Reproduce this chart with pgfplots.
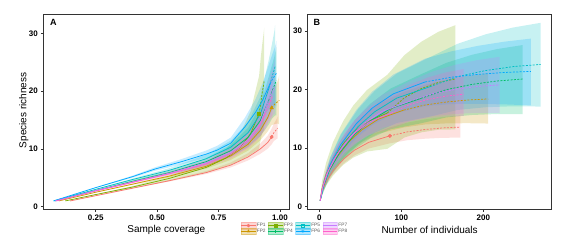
\documentclass[border=0pt]{standalone}
\usepackage{pgfplots}
\pgfplotsset{compat=1.18}
\usepackage{fontspec}
\setmainfont{Liberation Sans}
\definecolor{c1}{HTML}{F8766D}
\definecolor{c2}{HTML}{CD9600}
\definecolor{c3}{HTML}{7CAE00}
\definecolor{c4}{HTML}{00BE67}
\definecolor{c5}{HTML}{00BFC4}
\definecolor{c6}{HTML}{00A9FF}
\definecolor{c7}{HTML}{C77CFF}
\definecolor{c8}{HTML}{FF61CC}
\tikzset{
  rib/.style={fill=#1, fill opacity=0.22, draw=none},
  obs/.style={#1, line width=0.75pt},
  ext/.style={#1, line width=0.75pt, dash pattern=on 2pt off 1.4pt},
}
\pgfplotsset{
  base/.style={scale only axis, height=195pt,
    axis line style={draw=black!80, line width=0.8pt},
    tick align=outside, major tick length=2.5pt,
    tick style={black!80, line width=0.6pt},
    tick label style={font=\bfseries\fontsize{8}{9}\selectfont, black},
    yticklabel style={xshift=0.6pt},
    label style={font=\fontsize{10}{12}\selectfont},
    /pgf/number format/assume math mode=true,
    ytick={0,10,20,30}, xtick pos=left, ytick pos=left,
    every axis plot/.append style={forget plot}},
  legkey/.style 2 args={legend image code/.code={
    \fill[#1, fill opacity=0.3, draw=#1, draw opacity=0.35, line width=0.3pt] (0pt,-3.3pt) rectangle (14.5pt,3.3pt);
    \draw[#1, line width=0.7pt] (0pt,0pt) -- (14.5pt,0pt);
    \path[draw=#1, fill=#1] plot[#2, mark size=1.5pt] coordinates {(7.25pt,0pt)};
  }},
}
\begin{document}
\begin{tikzpicture}
\path[use as bounding box] (0pt,0pt) rectangle (564pt,249pt);
% ---------------- Panel A ----------------
\begin{axis}[base, at={(43.3pt,39.7pt)}, anchor=south west, width=246pt,
  xmin=0.0367, xmax=1.038, ymin=-0.45, ymax=33.29,
  xtick={0.25,0.5,0.75,1}, xticklabels={0.25,0.50,0.75,1.00},
  xlabel={Sample coverage}, ylabel={Species richness},
  xlabel style={at={(axis description cs:0.5,-0.108)}, anchor=center},
  ylabel style={at={(axis description cs:-0.079,0.508)}, anchor=center},
  legend style={at={(1.021,-0.098)}, anchor=center, legend columns=4, draw=none, fill=none,
    font=\fontsize{4.8}{5}\selectfont, text=black!65, row sep=-1.2pt, inner sep=0pt,
    nodes={inner sep=0.8pt}, /tikz/every even column/.append style={column sep=1.6pt}},
]
% ribbons
\addplot[rib=c1] coordinates {(0.146,1)(0.25,1.89)(0.40,3.15)(0.55,4.37)(0.70,5.65)(0.80,6.80)(0.87,8.00)(0.92,9.15)(0.95,10.03)(0.966,10.78)(0.975,11.36)(0.983,11.61)(0.988,11.76)(0.99,11.8)
 (0.99,15.6)(0.988,15.33)(0.983,14.92)(0.975,14.36)(0.966,13.48)(0.95,12.28)(0.92,10.94)(0.87,9.27)(0.80,7.65)(0.70,6.18)(0.55,4.64)(0.40,3.26)(0.25,1.91)} -- cycle;
\addplot[rib=c2] coordinates {(0.10,1)(0.25,2.47)(0.40,3.80)(0.55,5.09)(0.70,6.59)(0.80,8.10)(0.87,9.69)(0.92,11.49)(0.95,13.02)(0.966,14.12)(0.98,14.3)(0.99,14.4)(0.995,14.3)(0.997,14.2)
 (0.997,22.8)(0.995,22.35)(0.99,21.70)(0.98,20.84)(0.966,20.22)(0.95,17.90)(0.92,14.99)(0.87,11.96)(0.80,9.53)(0.70,7.43)(0.55,5.52)(0.40,4.00)(0.25,2.53)} -- cycle;
\addplot[rib=c3] coordinates {(0.126,1)(0.25,2.07)(0.40,3.25)(0.55,4.49)(0.70,5.90)(0.78,6.93)(0.84,7.98)(0.88,9.00)(0.915,9.99)(0.922,11.82)(0.928,12.70)(0.933,13.14)(0.936,13.2)
 (0.936,31.0)(0.933,29.87)(0.928,28.18)(0.922,25.88)(0.915,22.63)(0.88,16.45)(0.84,12.77)(0.78,9.97)(0.70,7.76)(0.55,5.34)(0.40,3.57)(0.25,2.13)} -- cycle;
\addplot[rib=c4] coordinates {(0.085,1)(0.25,2.75)(0.40,4.24)(0.55,5.57)(0.70,7.16)(0.80,8.65)(0.87,10.32)(0.92,12.21)(0.955,14.24)(0.968,15.25)(0.977,15.66)(0.982,15.83)(0.985,15.8)
 (0.985,27.6)(0.982,26.92)(0.977,25.93)(0.968,24.57)(0.955,22.62)(0.92,17.50)(0.87,13.63)(0.80,10.72)(0.70,8.42)(0.55,6.22)(0.40,4.56)(0.25,2.84)} -- cycle;
\addplot[rib=c5] coordinates {(0.08,1)(0.25,2.95)(0.40,4.52)(0.55,5.92)(0.70,7.58)(0.80,9.14)(0.87,10.93)(0.92,12.97)(0.955,15.39)(0.966,16.52)(0.973,16.98)(0.978,17.15)(0.98,17.1)
 (0.98,31.4)(0.978,30.59)(0.973,29.42)(0.966,27.82)(0.955,25.54)(0.92,18.98)(0.87,14.64)(0.80,11.44)(0.70,9.01)(0.55,6.67)(0.40,4.88)(0.25,3.05)} -- cycle;
\addplot[rib=c6] coordinates {(0.078,1)(0.25,3.25)(0.40,5.02)(0.49,6.20)(0.60,7.34)(0.70,8.44)(0.745,9.03)(0.80,10.0)(0.857,12.16)(0.90,13.96)(0.93,15.44)(0.96,17.18)(0.97,17.53)(0.978,17.55)(0.983,17.47)(0.985,17.3)
 (0.985,28.7)(0.983,28.18)(0.978,27.47)(0.97,26.53)(0.96,25.28)(0.93,21.46)(0.90,18.56)(0.857,15.38)(0.80,11.97)(0.745,10.55)(0.70,9.73)(0.60,8.25)(0.49,6.79)(0.40,5.37)(0.25,3.35)} -- cycle;
\addplot[rib=c7] coordinates {(0.085,1)(0.25,2.76)(0.40,4.17)(0.55,5.53)(0.70,7.09)(0.80,8.57)(0.87,10.27)(0.92,12.28)(0.95,14.59)(0.962,15.47)(0.971,15.84)(0.977,16.01)(0.98,16.0)
 (0.98,25.6)(0.977,25.03)(0.971,24.20)(0.962,23.05)(0.95,21.41)(0.92,16.52)(0.87,12.93)(0.80,10.23)(0.70,8.11)(0.55,6.07)(0.40,4.43)(0.25,2.84)} -- cycle;
\addplot[rib=c8] coordinates {(0.09,1)(0.25,2.67)(0.40,4.08)(0.55,5.44)(0.70,6.92)(0.80,8.33)(0.87,10.06)(0.91,11.60)(0.94,13.37)(0.953,14.52)(0.962,15.08)(0.967,15.40)(0.97,15.5)
 (0.97,23.5)(0.967,22.92)(0.962,22.04)(0.953,20.84)(0.94,19.05)(0.91,15.49)(0.87,12.74)(0.80,9.99)(0.70,7.96)(0.55,6.0)(0.40,4.34)(0.25,2.74)} -- cycle;
% lines
\addplot[obs=c1] coordinates {(0.146,1)(0.25,1.9)(0.40,3.2)(0.55,4.5)(0.70,5.9)(0.80,7.2)(0.87,8.6)(0.92,10.0)(0.95,11.1)(0.966,12.06)};
\addplot[ext=c1] coordinates {(0.966,12.06)(0.975,12.8)(0.983,13.2)(0.988,13.45)(0.99,13.6)};
\addplot[obs=c2] coordinates {(0.10,1)(0.25,2.5)(0.40,3.9)(0.55,5.3)(0.70,7.0)(0.80,8.8)(0.87,10.8)(0.92,13.2)(0.95,15.4)(0.966,17.1)};
\addplot[ext=c2] coordinates {(0.966,17.1)(0.98,17.8)(0.99,18.15)(0.995,18.3)(0.997,18.4)};
\addplot[obs=c3] coordinates {(0.126,1)(0.25,2.1)(0.40,3.4)(0.55,4.9)(0.70,6.8)(0.78,8.4)(0.84,10.3)(0.88,12.6)(0.915,16.1)};
\addplot[ext=c3] coordinates {(0.915,16.1)(0.922,18.0)(0.928,19.8)(0.933,21.0)(0.936,21.8)};
\addplot[obs=c4] coordinates {(0.085,1)(0.25,2.8)(0.40,4.4)(0.55,5.9)(0.70,7.8)(0.80,9.7)(0.87,12.0)(0.92,14.9)(0.955,18.5)};
\addplot[ext=c4] coordinates {(0.955,18.5)(0.968,20.0)(0.977,20.9)(0.982,21.5)(0.985,21.8)};
\addplot[obs=c5] coordinates {(0.08,1)(0.25,3.0)(0.40,4.7)(0.55,6.3)(0.70,8.3)(0.80,10.3)(0.87,12.8)(0.92,16.0)(0.955,20.5)};
\addplot[ext=c5] coordinates {(0.955,20.5)(0.966,22.2)(0.973,23.2)(0.978,23.9)(0.98,24.3)};
\addplot[obs=c6] coordinates {(0.078,1)(0.25,3.3)(0.40,5.2)(0.49,6.5)(0.60,7.8)(0.70,9.1)(0.745,9.8)(0.80,11.0)(0.857,13.8)(0.90,16.3)(0.93,18.5)(0.96,21.3)};
\addplot[ext=c6] coordinates {(0.96,21.3)(0.97,22.1)(0.978,22.6)(0.983,22.9)(0.985,23.1)};
\addplot[obs=c7] coordinates {(0.085,1)(0.25,2.8)(0.40,4.3)(0.55,5.8)(0.70,7.6)(0.80,9.4)(0.87,11.6)(0.92,14.4)(0.95,18.0)};
\addplot[ext=c7] coordinates {(0.95,18)(0.962,19.3)(0.971,20.0)(0.977,20.5)(0.98,20.8)};
\addplot[obs=c8] coordinates {(0.09,1)(0.25,2.7)(0.40,4.2)(0.55,5.7)(0.70,7.4)(0.80,9.1)(0.87,11.3)(0.91,13.4)(0.94,16.0)};
\addplot[ext=c8] coordinates {(0.94,16)(0.953,17.4)(0.962,18.3)(0.967,18.9)(0.97,19.2)};
% observed points
\addplot[c1, only marks, mark=*, mark size=1.8pt] coordinates {(0.966,12.06)};
\addplot[c2, only marks, mark=triangle*, mark size=2.1pt] coordinates {(0.966,17.1)};
\addplot[c3, only marks, mark=square*, mark size=1.6pt] coordinates {(0.915,16.1)};
\node[anchor=north west, inner sep=0pt, font=\bfseries\fontsize{9}{10}\selectfont] at (rel axis cs:0.027,0.974) {A};
% legend
\addlegendimage{legkey={c1}{mark=*}}\addlegendentry{FP1}
\addlegendimage{legkey={c3}{mark=square*}}\addlegendentry{FP3}
\addlegendimage{legkey={c5}{mark=square}}\addlegendentry{FP5}
\addlegendimage{legkey={c7}{mark=none}}\addlegendentry{FP7}
\addlegendimage{legkey={c2}{mark=triangle*}}\addlegendentry{FP2}
\addlegendimage{legkey={c4}{mark=+}}\addlegendentry{FP4}
\addlegendimage{legkey={c6}{mark=asterisk}}\addlegendentry{FP6}
\addlegendimage{legkey={c8}{mark=none}}\addlegendentry{FP8}
\end{axis}
% ---------------- Panel B ----------------
\begin{axis}[base, at={(307.5pt,39.7pt)}, anchor=south west, width=244.2pt,
  xmin=-14.4, xmax=283.4, ymin=-0.44, ymax=32.85,
  xtick={0,100,200},
  xlabel={Number of individuals},
  xlabel style={at={(axis description cs:0.5,-0.108)}, anchor=center},
]
\addplot[rib=c1] coordinates {(1,1)(3.4,2.31)(8.6,3.93)(17.2,5.63)(30.1,7.45)(43,8.76)(60.2,9.93)(86,10.82)(107.5,11.36)(129,11.61)(150.5,11.76)(172,11.8)
 (172,15.6)(150.5,15.33)(129,14.92)(107.5,14.36)(86,13.52)(60.2,12.17)(43,10.66)(30.1,9.05)(17.2,6.85)(8.6,4.77)(3.4,2.84)} -- cycle;
\addplot[rib=c2] coordinates {(1,1)(4.1,2.58)(10.3,4.73)(20.6,6.95)(36.1,9.32)(51.5,10.99)(72.1,12.47)(103,13.52)(128.8,14.04)(154.5,14.22)(180.3,14.26)(206,14.2)
 (206,22.8)(180.3,22.35)(154.5,21.70)(128.8,20.84)(103,19.62)(72.1,17.55)(51.5,15.29)(36.1,12.93)(20.6,9.70)(10.3,6.62)(4.1,3.79)} -- cycle;
\addplot[rib=c3] coordinates {(1,1)(3.3,1.90)(8.3,3.61)(16.6,5.30)(29.1,7.14)(41.5,8.4)(58.1,9.43)(83,9.89)(103.8,11.82)(124.5,12.70)(145.3,13.14)(166,13.2)
 (166,31.0)(145.3,29.87)(124.5,28.18)(103.8,25.88)(83,22.53)(58.1,19.93)(41.5,17.3)(29.1,14.61)(16.6,10.99)(8.3,7.52)(3.3,4.39)} -- cycle;
\addplot[rib=c4] coordinates {(1,1)(5,2.61)(12.4,4.93)(24.8,7.31)(43.4,9.86)(62,11.65)(86.8,13.21)(124,14.24)(155,15.25)(186,15.66)(217,15.83)(248,15.8)
 (248,27.6)(217,26.92)(186,25.93)(155,24.57)(124,22.62)(86.8,20.17)(62,17.55)(43.4,14.82)(24.8,11.09)(12.4,7.53)(5,4.26)} -- cycle;
\addplot[rib=c5] coordinates {(1,1)(5.4,2.72)(13.5,5.27)(27,7.87)(47.3,10.66)(67.5,12.61)(94.5,14.30)(135,15.39)(168.8,16.52)(202.5,16.98)(236.3,17.15)(270,17.1)
 (270,31.4)(236.3,30.59)(202.5,29.42)(168.8,27.82)(135,25.54)(94.5,22.74)(67.5,19.76)(47.3,16.66)(27,12.44)(13.5,8.41)(5.4,4.72)} -- cycle;
\addplot[rib=c6] coordinates {(1,1)(5.2,3.03)(12.9,5.81)(25.8,8.68)(45.2,11.75)(64.5,13.94)(90.3,15.85)(129,17.18)(161.3,17.53)(193.5,17.55)(225.8,17.47)(258,17.3)
 (258,28.7)(225.8,28.18)(193.5,27.47)(161.3,26.53)(129,25.28)(90.3,22.57)(64.5,19.64)(45.2,16.54)(25.8,12.33)(12.9,8.32)(5.2,4.62)} -- cycle;
\addplot[rib=c7] coordinates {(1,1)(4.4,2.71)(11,5.04)(22,7.45)(38.5,10.03)(55,11.86)(77,13.47)(110,14.59)(137.5,15.47)(165,15.84)(192.5,16.01)(220,16.0)
 (220,25.6)(192.5,25.03)(165,24.20)(137.5,23.05)(110,21.41)(77,19.13)(55,16.66)(38.5,14.07)(22,10.53)(11,7.16)(4.4,4.05)} -- cycle;
\addplot[rib=c8] coordinates {(1,1)(3.5,2.58)(8.8,4.69)(17.6,6.87)(30.8,9.20)(44,10.85)(61.6,12.32)(88,13.37)(110,14.52)(132,15.08)(154,15.40)(176,15.5)
 (176,23.5)(154,22.92)(132,22.04)(110,20.84)(88,19.05)(61.6,17.04)(44,14.85)(30.8,12.56)(17.6,9.43)(8.8,6.45)(3.5,3.70)} -- cycle;
% lines
\addplot[obs=c1] coordinates {(1,1)(3.4,2.56)(8.6,4.33)(17.2,6.21)(30.1,8.21)(43,9.66)(60.2,10.99)(86,12.1)};
\addplot[ext=c1] coordinates {(86,12.1)(107.5,12.78)(129,13.18)(150.5,13.45)(172,13.6)};
\addplot[obs=c2] coordinates {(1,1)(4.1,3.17)(10.3,5.65)(20.6,8.29)(36.1,11.08)(51.5,13.09)(72.1,14.95)(103,16.5)};
\addplot[ext=c2] coordinates {(103,16.5)(128.8,17.36)(154.5,17.87)(180.3,18.21)(206,18.4)};
\addplot[obs=c3] coordinates {(1,1)(3.3,3.10)(8.3,5.5)(16.6,8.05)(29.1,10.75)(41.5,12.7)(58.1,14.5)(83,16)};
\addplot[ext=c3] coordinates {(83,16)(103.8,18.61)(124.5,20.18)(145.3,21.22)(166,21.8)};
\addplot[obs=c4] coordinates {(1,1)(5,3.45)(12.4,6.25)(24.8,9.23)(43.4,12.38)(62,14.65)(86.8,16.75)(124,18.5)};
\addplot[ext=c4] coordinates {(124,18.5)(155,19.99)(186,20.88)(217,21.47)(248,21.8)};
\addplot[obs=c5] coordinates {(1,1)(5.4,3.73)(13.5,6.85)(27,10.17)(47.3,13.68)(67.5,16.21)(94.5,18.55)(135,20.5)};
\addplot[ext=c5] coordinates {(135,20.5)(168.8,22.21)(202.5,23.24)(236.3,23.92)(270,24.3)};
\addplot[obs=c6] coordinates {(1,1)(5.2,3.84)(12.9,7.09)(25.8,10.54)(45.2,14.19)(64.5,16.84)(90.3,19.27)(129,21.3)};
\addplot[ext=c6] coordinates {(129,21.3)(161.3,22.11)(193.5,22.60)(225.8,22.92)(258,23.1)};
\addplot[obs=c7] coordinates {(1,1)(4.4,3.38)(11,6.10)(22,8.99)(38.5,12.05)(55,14.26)(77,16.30)(110,18)};
\addplot[ext=c7] coordinates {(110,18)(137.5,19.26)(165,20.02)(192.5,20.52)(220,20.8)};
\addplot[obs=c8] coordinates {(1,1)(3.5,3.10)(8.8,5.5)(17.6,8.05)(30.8,10.75)(44,12.7)(61.6,14.5)(88,16)};
\addplot[ext=c8] coordinates {(88,16)(110,17.44)(132,18.30)(154,18.88)(176,19.2)};
\addplot[c1, only marks, mark=*, mark size=1.8pt] coordinates {(86,12.1)};
\node[anchor=north west, inner sep=0pt, font=\bfseries\fontsize{9}{10}\selectfont] at (rel axis cs:0.024,0.974) {B};
\end{axis}
\end{tikzpicture}
\end{document}
